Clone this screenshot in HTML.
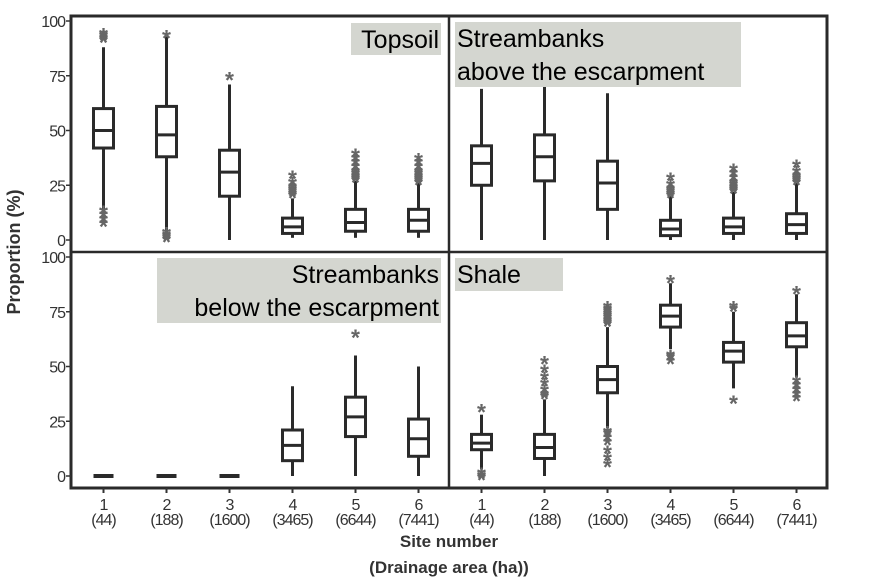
<!DOCTYPE html>
<html><head><meta charset="utf-8"><style>
body{margin:0;background:#fff}
svg{display:block}
text{font-family:"Liberation Sans",sans-serif}
.tk{font-size:16px;fill:#333;letter-spacing:-1px}
</style></head><body>
<svg id="c" width="874" height="581" viewBox="0 0 874 581" xmlns="http://www.w3.org/2000/svg"></svg>
<script>
const sites = ["1","2","3","4","5","6"];
const areas = ["(44)","(188)","(1600)","(3465)","(6644)","(7441)"];
const yTicks = [0,25,50,75,100];
const panelNames = ["Topsoil","Streambanks above the escarpment","Streambanks below the escarpment","Shale"];
// each stat row: [lowWhisker, q1, median, q3, highWhisker]
const topsoilStats = [[7,42,50,60,88],[2,38,48,61,93],[0,20,31,41,71],[1,3,6,10,19],[1,4,8,14,27],[1,4,9,14,26]];
const topsoilOut = [[92,93,94,95,8,10,12,14],[94,1,2,3,4],[75],[21,22,23,24,25,27,30],[28,29,30,31,32,34,36,38,40],[27,28,29,30,31,32,34,36,38]];
const aboveStats = [[0,25,35,43,69],[0,27,38,48,70],[0,14,26,36,67],[0,2,5,9,20],[0,3,6,10,22],[0,3,7,12,26]];
const aboveOut = [[],[],[],[21,22,23,24,26,29],[23,24,25,26,27,29,31,33],[27,28,29,30,32,35]];
const belowStats = [[0,0,0,0,0],[0,0,0,0,0],[0,0,0,0,0],[0,7,14,21,41],[0,18,27,36,55],[0,9,17,26,50]];
const belowOut = [[],[],[],[],[65],[]];
const shaleStats = [[3,12,15,19,28],[0,8,13,19,35],[22,38,44,50,68],[58,68,73,78,88],[40,52,57,61,75],[45,59,64,70,83]];
const shaleOut = [[0,1,2,31],[37,38,40,43,46,49,53],[70,71,72,73,74,75,76,77,78,6,9,12,16,18,20,21],[53,55,56,90],[35,77,78],[36,38,40,42,44,85]];

const svg = document.getElementById('c');
const NS = "http://www.w3.org/2000/svg";
function mk(tag, attrs, parent){const e=document.createElementNS(NS,tag);for(const k in attrs)e.setAttribute(k,attrs[k]);(parent||svg).appendChild(e);return e;}
const L=71, M=449, R=827, T=16, MID=252, B=488;
const step=(M-L)/6;
function xPos(panelCol,i){return (panelCol?M:L)+step*(i+0.5)+1;}
function yPos(panelRow,v){const y0=panelRow?476:240;return y0-v*2.19;}

const panels=[[0,0,topsoilStats,topsoilOut],[1,0,aboveStats,aboveOut],[0,1,belowStats,belowOut],[1,1,shaleStats,shaleOut]];
panels.forEach(([col,row,stats,outs],pi)=>{
  const g=mk('g',{});
  
  
  stats.forEach((s,i)=>{
    const x=xPos(col,i);
    const bg=mk('g',{},g);
    
    
    if(s[4]===s[0]){
      mk('line',{x1:x-10,x2:x+10,y1:yPos(row,0),y2:yPos(row,0),stroke:'#2a2a2a','stroke-width':4},bg);
    } else {
      mk('line',{x1:x,x2:x,y1:yPos(row,s[0]),y2:yPos(row,s[4]),stroke:'#2a2a2a','stroke-width':3},bg);
      mk('rect',{x:x-10,y:yPos(row,s[3]),width:20,height:yPos(row,s[1])-yPos(row,s[3]),fill:'#fff',stroke:'#2a2a2a','stroke-width':3},bg);
      mk('line',{x1:x-10,x2:x+10,y1:yPos(row,s[2]),y2:yPos(row,s[2]),stroke:'#2a2a2a','stroke-width':3},bg);
    }
    outs[i].forEach(v=>{
      const t=mk('text',{x:x,y:yPos(row,v)+12,'text-anchor':'middle','font-size':'23','fill':'#666','font-weight':'bold'},bg);
      
      
      t.textContent='*';
    });
  });
});
// frame
mk('rect',{x:L,y:T,width:R-L,height:B-T,fill:'none',stroke:'#2a2a2a','stroke-width':3});
mk('line',{x1:M,x2:M,y1:T,y2:B,stroke:'#2a2a2a','stroke-width':2.5});
mk('line',{x1:L,x2:R,y1:MID,y2:MID,stroke:'#2a2a2a','stroke-width':2.5});
// y ticks
[0,1].forEach(row=>{
  yTicks.forEach(v=>{
    const y=yPos(row,v);
    mk('line',{x1:L-5,x2:L,y1:y,y2:y,stroke:'#333','stroke-width':1.5});
    const t=mk('text',{x:L-6,y:y+6,'text-anchor':'end',class:'tk'});
    
    
    t.textContent=v;
  });
});
// x ticks
[0,1].forEach(col=>{
  sites.forEach((s,i)=>{
    const x=xPos(col,i);
    mk('line',{x1:x,x2:x,y1:B,y2:B+5,stroke:'#333','stroke-width':2});
    const t=mk('text',{x:x,y:B+22,'text-anchor':'middle',class:'tk'});
    
    
    t.textContent=s;
    const t2=mk('text',{x:x,y:B+37,'text-anchor':'middle',class:'tk'});
    
    
    t2.textContent=areas[i];
  });
});
// panel labels
function label(x,y,w,h,lines,anchor,name){
  const g=mk('g',{});
  
  
  mk('rect',{x:x,y:y,width:w,height:h,fill:'#d4d6d0'},g);
  lines.forEach((ln,k)=>{
    const t=mk('text',{x:anchor==='end'?x+w-2:x+2,y:y+25+k*33,'text-anchor':anchor,'font-size':'25','fill':'#000'},g);
    t.textContent=ln;
  });
}
label(351,23,90,32,[panelNames[0]],'end','topsoil-label');
label(455,22,286,65,["Streambanks","above the escarpment"],'start','streambanks-above-label');
label(157,258,284,65,["Streambanks","below the escarpment"],'end','streambanks-below-label');
label(455,258,108,33,[panelNames[3]],'start','shale-label');
// axis titles
let t=mk('text',{x:0,y:0,transform:'translate(20,252) rotate(-90)','text-anchor':'middle','font-size':'18','font-weight':'bold','fill':'#333'});
t.textContent='Proportion (%)';
t=mk('text',{x:449,y:547,'text-anchor':'middle','font-size':'17','font-weight':'bold','fill':'#333'});
t.textContent='Site number';
t=mk('text',{x:449,y:573,'text-anchor':'middle','font-size':'17','font-weight':'bold','fill':'#333'});
t.textContent='(Drainage area (ha))';
</script>
</body></html>
